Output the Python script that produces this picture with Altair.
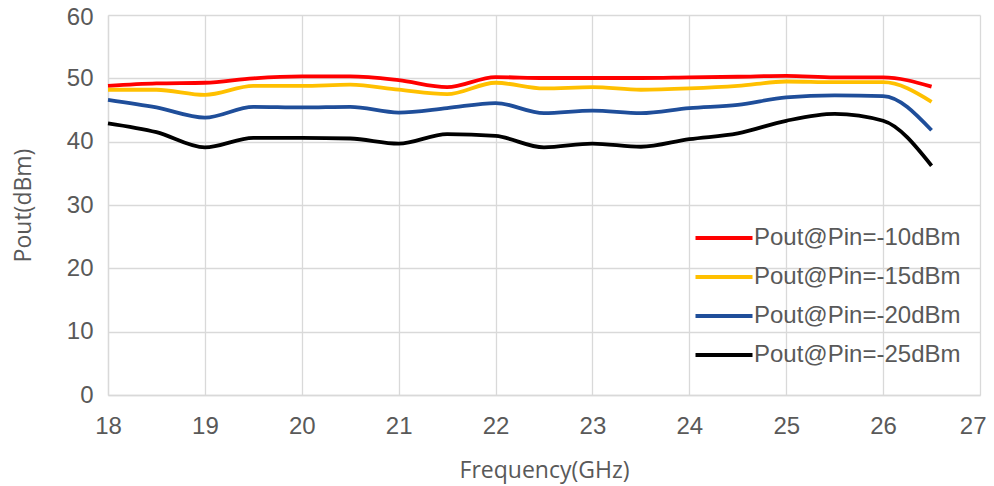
import altair as alt
import pandas as pd

freq = [18, 18.5, 19, 19.5, 20, 20.5, 21, 21.5, 22, 22.5, 23, 23.5, 24, 24.5, 25, 25.5, 26, 26.5]
p10 = [48.8, 49.2, 49.3, 50.0, 50.3, 50.3, 49.7, 48.6, 50.2, 50.05, 50.05, 50.05, 50.15, 50.25, 50.4, 50.15, 50.15, 48.7]
p15 = [48.2, 48.2, 47.4, 48.8, 48.8, 49.0, 48.2, 47.5, 49.3, 48.4, 48.6, 48.2, 48.4, 48.8, 49.5, 49.4, 49.4, 46.3]
p20 = [46.6, 45.4, 43.8, 45.5, 45.4, 45.5, 44.6, 45.3, 46.1, 44.5, 44.9, 44.5, 45.3, 45.8, 47.0, 47.3, 47.2, 41.8]
p25 = [42.9, 41.5, 39.1, 40.6, 40.6, 40.5, 39.7, 41.2, 40.9, 39.1, 39.7, 39.2, 40.4, 41.3, 43.3, 44.4, 43.3, 36.2]

series_names = ["Pout@Pin=-10dBm", "Pout@Pin=-15dBm", "Pout@Pin=-20dBm", "Pout@Pin=-25dBm"]
series_colors = ["#FF0000", "#FFC000", "#1F4E9A", "#000000"]
x_ticks = [18, 19, 20, 21, 22, 23, 24, 25, 26, 27]
y_ticks = [0, 10, 20, 30, 40, 50, 60]

rows = []
for name, vals in zip(series_names, [p10, p15, p20, p25]):
    for f, v in zip(freq, vals):
        rows.append({"Frequency": f, "Pout": v, "Series": name})
df = pd.DataFrame(rows)

chart = alt.Chart(df).mark_line(interpolate="monotone", strokeWidth=3.8).encode(
    x=alt.X("Frequency:Q", scale=alt.Scale(domain=[18, 27], nice=False),
            axis=alt.Axis(title="Frequency(GHz)", values=x_ticks, labelOverlap=False,
                          labelFlush=False,
                          labelAlign=alt.expr("datum.value == 27 ? 'right' : 'center'"),
                          labelOffset=alt.expr("datum.value == 27 ? 6 : 0"),
                          labelPadding=19, titlePadding=21)),
    y=alt.Y("Pout:Q", scale=alt.Scale(domain=[0, 60], nice=False),
            axis=alt.Axis(title="Pout(dBm)", values=y_ticks, labelOverlap=False,
                          labelFlush=False,
                          labelOffset=alt.expr("datum.value == 60 ? 2 : 0"),
                          labelPadding=15, titlePadding=31)),
    color=alt.Color("Series:N",
                    scale=alt.Scale(domain=series_names, range=series_colors),
                    legend=alt.Legend(title=None, orient="none", legendX=595, legendY=202,
                                      symbolType="M-1.5,0H1.5", symbolSize=1444, symbolStrokeWidth=4,
                                      symbolFillColor="transparent",
                                      labelFontSize=24, labelFont="Liberation Sans", labelLimit=400,
                                      labelColor="#595959", rowPadding=6, labelOffset=9)),
).properties(
    width=872, height=380,
    autosize=alt.AutoSizeParams(type="none"),
    padding={"left": 100, "top": 7, "right": 6, "bottom": 90},
).configure_axis(
    grid=True, gridColor="#D9D9D9", gridWidth=1.3,
    domainColor="#D9D9D9", domainWidth=1.3, ticks=False,
    labelFont="Liberation Sans", labelFontSize=24, labelColor="#595959",
    titleFont="Open Sans", titleFontSize=23, titleColor="#595959", titleFontWeight="normal",
).configure_view(stroke=None)

chart.save("out.html", embed_options={"renderer": "svg", "actions": False})
